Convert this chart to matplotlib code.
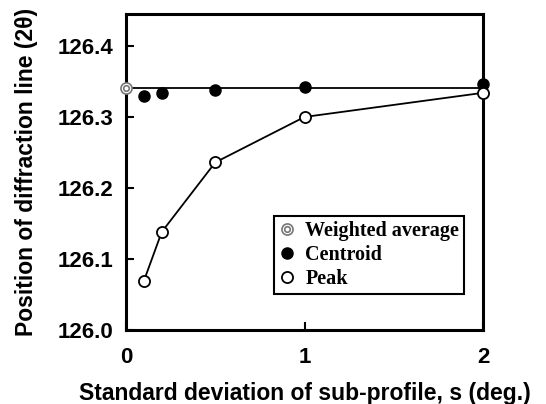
import matplotlib.pyplot as plt
from matplotlib.legend_handler import HandlerTuple

# standard deviation of sub-profile (deg.)
s_centroid = [0.1, 0.2, 0.5, 1.0, 2.0]
s_peak = [0.1, 0.2, 0.5, 1.0, 2.0]

# diffraction line positions (2 theta)
weighted_avg = 126.341
centroid = [126.329, 126.334, 126.338, 126.342, 126.347]
peak = [126.069, 126.138, 126.236, 126.300, 126.334]

xticks = [0, 1, 2]
yticks = [126.0, 126.1, 126.2, 126.3, 126.4]

fig = plt.figure(figsize=(5.46, 4.04), dpi=100)
ax = fig.add_axes([0.2308, 0.1832, 0.6538, 0.7821])

# weighted average line across the whole range
ax.plot([0, 2], [weighted_avg, weighted_avg], color="black", lw=1.3, zorder=2)
ax.plot(s_peak, peak, color="black", lw=1.3, zorder=2)

cen, = ax.plot(s_centroid, centroid, "o", ms=8, color="black", ls="none", zorder=4, clip_on=False)
pk, = ax.plot(s_peak, peak, "o", ms=8, mfc="white", mec="black", mew=1.3, ls="none", zorder=4, clip_on=False)

# double circle marker for the weighted average
wa1, = ax.plot([0], [weighted_avg], "o", ms=8, mfc="white", mec="#777777", mew=1.2, ls="none", zorder=5, clip_on=False)
wa2, = ax.plot([0], [weighted_avg], "o", ms=4, mfc="white", mec="#777777", mew=1.2, ls="none", zorder=6, clip_on=False)

ax.set_xlim(0, 2)
ax.set_ylim(126.0, 126.445)
ax.set_xticks(xticks)
ax.set_xticklabels([str(v) for v in xticks])
ax.set_yticks(yticks)
ax.set_yticklabels(["%.1f" % v for v in yticks])

for sp in ax.spines.values():
    sp.set_linewidth(2.2)
ax.tick_params(direction="in", length=6, width=1.5, labelsize=16, pad=9)
ax.tick_params(axis="x", pad=12)
for lab in ax.get_xticklabels() + ax.get_yticklabels():
    lab.set_fontfamily("Liberation Sans")
    lab.set_fontweight("bold")

ax.set_xlabel("Standard deviation of sub-profile, s (deg.)", fontsize=16.5, fontweight="bold",
              family="Liberation Sans", labelpad=10)
ax.set_ylabel("Position of diffraction line (2\u03b8)", fontsize=16.5, fontweight="bold",
              family="Liberation Sans", labelpad=14)

leg = ax.legend([(wa1, wa2), cen, pk], ["Weighted average", "Centroid", "Peak"],
                handler_map={tuple: HandlerTuple(ndivide=1, pad=0)},
                loc="lower left", bbox_to_anchor=(0.4146, 0.114), borderaxespad=0,
                fancybox=False, framealpha=1, edgecolor="black", handlelength=0.8,
                handletextpad=0.5, labelspacing=0.2, borderpad=0.25,
                prop={"family": "Liberation Serif", "weight": "bold", "size": 14.5})
leg.get_frame().set_linewidth(1.5)

fig.savefig("out.png", dpi=100)
